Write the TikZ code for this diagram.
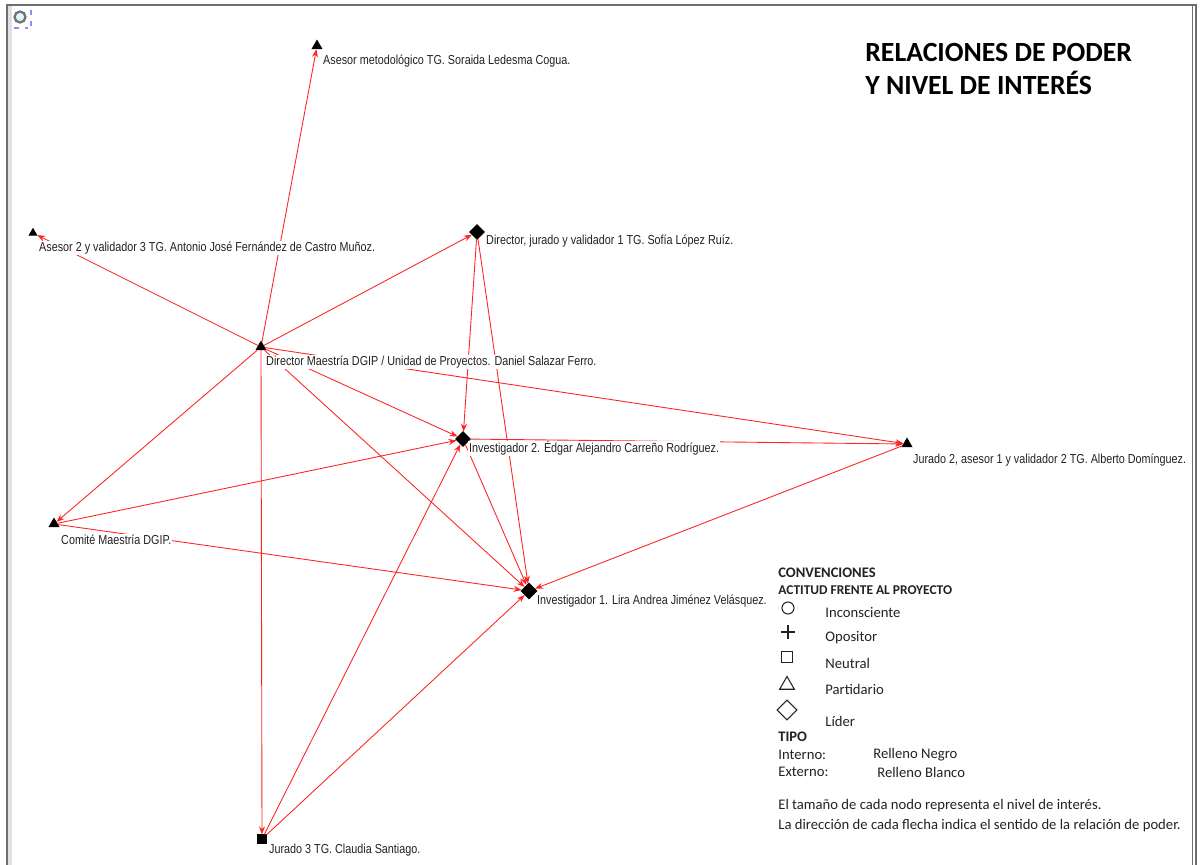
\documentclass[tikz,border=0pt]{standalone}
\usepackage{fontspec}
\setmainfont{Carlito}
\newfontfamily\narrowfont[FakeStretch=0.83]{Liberation Sans}
\usetikzlibrary{shapes.geometric, arrows.meta, positioning}
\definecolor{linkcolor}{HTML}{FF2424}
\definecolor{framecolor}{HTML}{6E6E6E}
\definecolor{textcolor}{HTML}{222222}

\begin{document}
\begin{tikzpicture}[
    x=0.02cm, y=-0.02cm,
    actor/.style={draw=black, fill=black, inner sep=0pt},
    partidario/.style={actor, regular polygon, regular polygon sides=3, minimum size=0.23cm},
    lider/.style={actor, diamond, minimum size=0.3cm},
    neutral/.style={actor, rectangle, minimum size=0.17cm},
    actorlabel/.style={font=\narrowfont\fontsize{7.4}{8.5}\selectfont, text=textcolor,
                       anchor=west, fill=white, inner sep=0.5pt},
    powerlink/.style={-{Stealth[length=1.6mm, width=1.2mm]}, linkcolor, line width=0.5pt},
    legtxt/.style={font=\fontsize{8.35}{9.5}\selectfont, text=textcolor, anchor=west, inner sep=0pt},
    leghead/.style={legtxt, font=\bfseries\fontsize{8.3}{9.5}\selectfont},
    legsym/.style={draw=textcolor, line width=0.6pt, fill=white, inner sep=0pt},
    titletxt/.style={font=\bfseries\fontsize{15.8}{19}\selectfont, anchor=base west, inner sep=0pt}
]
    \useasboundingbox (0,0) rectangle (1201,865);

    % Frame
    \fill[black!12] (7,5) rectangle (12,865);
    \draw[framecolor, line width=1.2pt] (7,865) -- (7,5) -- (1196,5) -- (1196,865);
    \draw[framecolor, line width=0.5pt] (1192,5) -- (1192,865);
    \node[circle, draw=black!55, fill=cyan!12, line width=1.3pt, minimum size=0.22cm, inner sep=0pt] (icon) at (20,17) {};
    \draw[blue!45, dashed, line width=0.7pt] (14,28) -- (28,28) (31,10) -- (31,27);

    % Title
    \node[titletxt] (title1) at (865,62) {RELACIONES DE PODER};
    \node[titletxt] (title2) at (865,95) {Y NIVEL DE INTERÉS};

    % Actors
    \node[partidario] (asemet) at (317,46) {};
    \node[partidario, minimum size=0.18cm] (asesor2) at (33,233) {};
    \node[lider] (dirjur) at (477,232) {};
    \node[partidario] (dirmae) at (261,347) {};
    \node[lider] (inv2) at (463,439) {};
    \node[partidario] (jurado2) at (907,444) {};
    \node[partidario] (comite) at (54,524) {};
    \node[lider, minimum size=0.32cm] (inv1) at (529,591) {};
    \node[neutral] (jurado3) at (262,839) {};

    % Power relations
    \draw[powerlink] (dirmae) -- (asemet);
    \draw[powerlink] (dirmae) -- (asesor2);
    \draw[powerlink] (dirmae) -- (dirjur);
    \draw[powerlink] (dirmae) -- (comite);
    \draw[powerlink] (dirmae) -- (jurado3);
    \draw[powerlink] (dirmae) -- (inv2);
    \draw[powerlink] (dirmae) -- (inv1);
    \draw[powerlink] (dirmae) -- (jurado2);
    \draw[powerlink] (dirjur) -- (inv2);
    \draw[powerlink] (dirjur) -- (inv1);
    \draw[powerlink] (inv2) -- (inv1);
    \draw[powerlink] (inv2) -- (jurado2);
    \draw[powerlink] (comite) -- (inv2);
    \draw[powerlink] (comite) -- (inv1);
    \draw[powerlink] (jurado3) -- (inv2);
    \draw[powerlink] (jurado3) -- (inv1);
    \draw[powerlink] (jurado2) -- (inv1);

    % Names
    \node[actorlabel] (lasemet) at ([xshift=0.1cm, yshift=-0.3cm]asemet.center) {Asesor metodológico TG. Soraida Ledesma Cogua.};
    \node[actorlabel] (lasesor2) at ([xshift=0.1cm, yshift=-0.3cm]asesor2.center) {Asesor 2 y validador 3 TG. Antonio José Fernández de Castro Muñoz.};
    \node[actorlabel] (ldirjur) at ([xshift=0.16cm, yshift=-0.18cm]dirjur.center) {Director, jurado y validador 1 TG. Sofía López Ruíz.};
    \node[actorlabel] (ldirmae) at ([xshift=0.08cm, yshift=-0.3cm]dirmae.center) {Director Maestría DGIP / Unidad de Proyectos. Daniel Salazar Ferro.};
    \node[actorlabel] (linv2) at ([xshift=0.1cm, yshift=-0.19cm]inv2.center) {Investigador 2. Édgar Alejandro Carreño Rodríguez.};
    \node[actorlabel] (ljurado2) at ([xshift=0.1cm, yshift=-0.32cm]jurado2.center) {Jurado 2, asesor 1 y validador 2 TG. Alberto Domínguez.};
    \node[actorlabel] (lcomite) at ([xshift=0.12cm, yshift=-0.32cm]comite.center) {Comité Maestría DGIP.};
    \node[actorlabel] (linv1) at ([xshift=0.14cm, yshift=-0.2cm]inv1.center) {Investigador 1. Lira Andrea Jiménez Velásquez.};
    \node[actorlabel] (ljurado3) at ([xshift=0.12cm, yshift=-0.22cm]jurado3.center) {Jurado 3 TG. Claudia Santiago.};

    % Conventions
    \node[leghead] (convhead) at (778,573) {CONVENCIONES};
    \node[leghead, font=\bfseries\fontsize{7.65}{8.5}\selectfont] (acthead) at (778,590) {ACTITUD FRENTE AL PROYECTO};
    \node[legsym, circle, minimum size=0.24cm] (syminc) at (788,608) {};
    \draw[legsym] (781,632) -- (795,632) (788,625) -- (788,639);
    \node[legsym, rectangle, minimum size=0.22cm] (symneu) at (787,657) {};
    \node[legsym, regular polygon, regular polygon sides=3, minimum size=0.34cm] (sympar) at (787,685) {};
    \node[legsym, diamond, minimum size=0.4cm] (symlid) at (787,710) {};
    \node[legtxt] (txtinc) at (825,613) {Inconsciente};
    \node[legtxt] (txtopo) at (825,638) {Opositor};
    \node[legtxt] (txtneu) at (825,663) {Neutral};
    \node[legtxt] (txtpar) at (825,689) {Partidario};
    \node[legtxt] (txtlid) at (825,721) {Líder};
    \node[leghead] (tipohead) at (778,737) {TIPO};
    \node[legtxt] (txtint) at (778,755) {Interno:};
    \node[legtxt] (txtneg) at (873,755) {Relleno Negro};
    \node[legtxt] (txtext) at (778,772) {Externo:};
    \node[legtxt] (txtbla) at (877,772) {Relleno Blanco};
    \node[legtxt] (nota1) at (778,806) {El tamaño de cada nodo representa el nivel de interés.};
    \node[legtxt] (nota2) at (778,826) {La dirección de cada flecha indica el sentido de la relación de poder.};

\end{tikzpicture}
\end{document}
